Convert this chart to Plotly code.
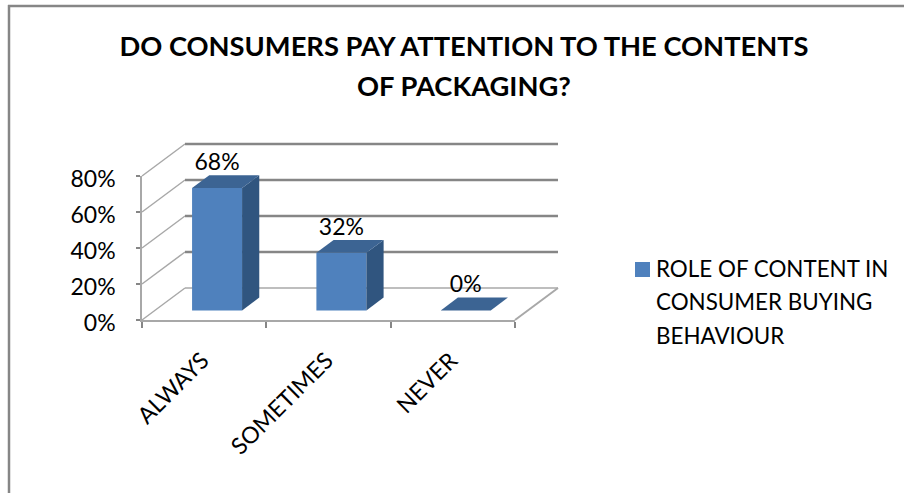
import plotly.graph_objects as go

W, H = 904, 493

categories = ["ALWAYS", "SOMETIMES", "NEVER"]
values = [68, 32, 0]
value_labels = ["68%", "32%", "0%"]
y_ticks = [0, 20, 40, 60, 80]
series_lines = ["ROLE OF CONTENT IN", "CONSUMER BUYING", "BEHAVIOUR"]
title_lines = ["DO CONSUMERS PAY ATTENTION TO THE CONTENTS", "OF PACKAGING?"]

FONT = "Lato, Carlito, Calibri, sans-serif"
FRONT, SIDE, TOP = "#4f81bd", "#30557f", "#3c6493"
WALL, GRID = "#a8a8a8", "#868686"

# Oblique projection: pixels per unit along each axis, and the depth offset.
X0, CAT_W = 142.0, 124.33
Y0, PCT_H = 320.0, 1.8
DX, DY = 43 / CAT_W, 32 / PCT_H          # full floor depth in data units
FRONT_D, BACK_D = 0.30, 0.70             # where the bars sit within the depth
BAR_W = 50 / CAT_W
LABEL_LIFT = 24 / PCT_H

x_range = [-0.1, 3.5]
y_range = [-10, 100]

fig = go.Figure()

# Front faces of the columns
xc = [i + 0.5 + FRONT_D * DX for i in range(len(categories))]
base = FRONT_D * DY
fig.add_trace(go.Bar(
    x=xc, y=values, base=base, width=BAR_W, name=" ".join(series_lines),
    marker=dict(color=FRONT, line=dict(width=0)), hoverinfo="skip",
    xaxis="x", yaxis="y", showlegend=False,
))

# Side and top faces, offset from each column's front face
depth = BACK_D - FRONT_D
for c, v in zip(xc, values):
    l, r = c - BAR_W / 2, c + BAR_W / 2
    t = base + v
    if v > 0:
        fig.add_trace(go.Scatter(
            x=[r, r + depth * DX, r + depth * DX, r, r],
            y=[base, base + depth * DY, t + depth * DY, t, base],
            fill="toself", fillcolor=SIDE, mode="lines", line=dict(width=0),
            showlegend=False, hoverinfo="skip",
        ))
    fig.add_trace(go.Scatter(
        x=[l, r, r + depth * DX, l + depth * DX, l],
        y=[t, t, t + depth * DY, t + depth * DY, t],
        fill="toself", fillcolor=TOP, mode="lines", line=dict(width=0),
        showlegend=False, hoverinfo="skip",
    ))

# Value labels above the columns
fig.add_trace(go.Scatter(
    x=xc, y=[base + v + LABEL_LIFT for v in values],
    text=value_labels, mode="text", textposition="middle center",
    textfont=dict(family=FONT, size=23, color="#000000"),
    showlegend=False, hoverinfo="skip",
))

# Carries the visible category and percentage axes
fig.add_trace(go.Scatter(
    x=categories, y=values, mode="markers", marker=dict(opacity=0),
    xaxis="x2", yaxis="y2", showlegend=False, hoverinfo="skip",
))

# Walls and floor of the chart box, drawn behind the columns
shapes = []
for v in y_ticks:
    shapes.append(dict(type="line", xref="x", yref="y", layer="below",
                       x0=0, y0=v, x1=DX, y1=v + DY,
                       line=dict(color=WALL, width=1.5)))
    shapes.append(dict(type="line", xref="x", yref="y", layer="below",
                       x0=DX, y0=v + DY, x1=3 + DX, y1=v + DY,
                       line=dict(color=WALL if v == 0 else GRID,
                                 width=1.5 if v == 0 else 2.5)))
shapes.append(dict(type="line", xref="x", yref="y", layer="below",
                   x0=3, y0=0, x1=3 + DX, y1=DY,
                   line=dict(color=WALL, width=2)))
# Outer chart frame: only its left and top edges fall inside the page
shapes.append(dict(type="line", xref="paper", yref="paper", layer="below",
                   x0=9 / W, x1=9 / W, y0=0, y1=1 - 5 / H,
                   line=dict(color="#868686", width=2.5)))
shapes.append(dict(type="line", xref="paper", yref="paper", layer="below",
                   x0=8 / W, x1=1, y0=1 - 6 / H, y1=1 - 6 / H,
                   line=dict(color="#868686", width=2.5)))
# Legend key
shapes.append(dict(type="rect", xref="paper", yref="paper", layer="above",
                   x0=635 / W, x1=650 / W, y0=1 - 277 / H, y1=1 - 262 / H,
                   fillcolor=FRONT, line=dict(width=0)))


def xd(a, b):
    return [a / W, b / W]


def yd(top, bottom):
    return [1 - bottom / H, 1 - top / H]


tick_font = dict(family=FONT, size=23, color="#000000")
title_font = dict(family=FONT, size=27.3, color="#000000", weight="bold")

# Legend text, one annotation per line to hold the wide line pitch
annotations = [
    dict(text=line, xref="paper", yref="paper",
         x=655 / W, y=1 - (268 + 33.5 * i) / H, xanchor="left", yanchor="middle",
         align="left", showarrow=False, borderpad=0,
         font=dict(family=FONT, size=22.4, color="#000000"))
    for i, line in enumerate(series_lines)
]
# Second title row, set apart from the first by the wider title pitch
annotations.append(dict(text=title_lines[1], xref="paper", yref="paper",
                        x=464 / W, y=1 - 85 / H, xanchor="center",
                        yanchor="middle", showarrow=False, borderpad=0,
                        font=title_font))

fig.update_layout(
    width=W, height=H, autosize=False,
    margin=dict(l=0, r=0, t=0, b=0, pad=0),
    paper_bgcolor="white", plot_bgcolor="rgba(0,0,0,0)",
    title=dict(text=title_lines[0], x=464 / W, xanchor="center", y=1 - 46 / H,
               yanchor="middle", automargin=False, font=title_font),
    xaxis=dict(domain=xd(X0 + x_range[0] * CAT_W, X0 + x_range[1] * CAT_W),
               range=x_range, visible=False, fixedrange=True, automargin=False),
    yaxis=dict(domain=yd(Y0 - y_range[1] * PCT_H, Y0 - y_range[0] * PCT_H),
               range=y_range, visible=False, fixedrange=True, automargin=False),
    xaxis2=dict(domain=xd(X0, X0 + 3 * CAT_W), anchor="y2", type="category",
                range=[-0.5, 2.5], tickson="boundaries", ticks="outside",
                ticklen=6, tickwidth=1.5, tickcolor=GRID, automargin=False,
                showline=True, linecolor=WALL, linewidth=2, showgrid=False,
                ticklabelstandoff=16, ticklabelshift=-2,
                tickangle=-45, tickfont=tick_font, fixedrange=True),
    yaxis2=dict(domain=yd(Y0 - 80 * PCT_H, Y0), anchor="x2", range=[0, 80],
                tickvals=y_ticks, ticktext=[f"{v}%" for v in y_ticks],
                ticks="outside", ticklen=4, tickwidth=1.5, tickcolor=GRID,
                showline=True, linecolor=WALL, linewidth=1.5, showgrid=False,
                zeroline=False, ticklabelstandoff=16, ticklabelshift=3,
                automargin=False, tickfont=tick_font, fixedrange=True),
    annotations=annotations,
    showlegend=False,
    shapes=shapes,
)

fig.write_html("out.html", config=dict(displayModeBar=False))
